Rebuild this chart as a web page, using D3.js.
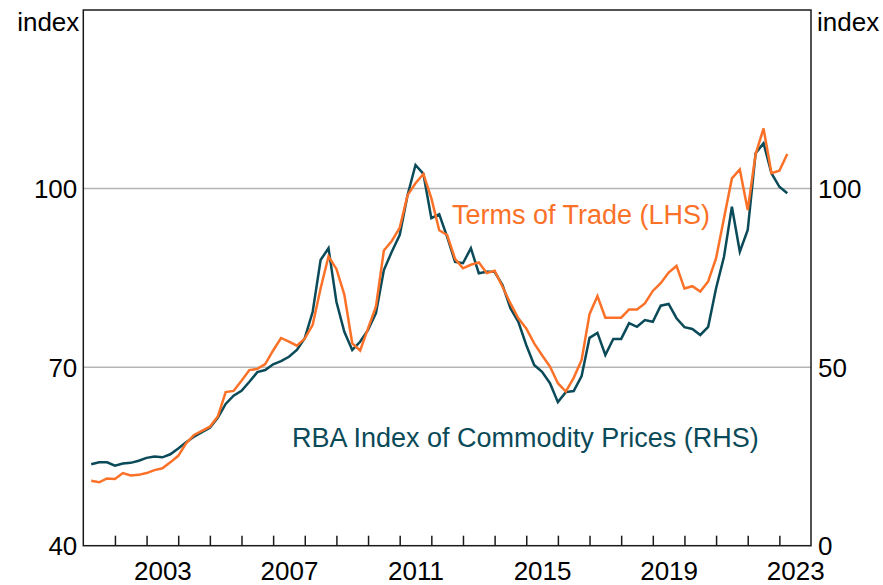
<!DOCTYPE html>
<html>
<head>
<meta charset="utf-8">
<script src="https://cdn.jsdelivr.net/npm/d3@7"></script>
<style>
  html, body { margin: 0; padding: 0; background: #fff; }
  svg { display: block; font-family: "Liberation Sans", Arial, sans-serif; }
</style>
</head>
<body>
<svg id="chart" width="883" height="585"></svg>
<script>
// ---- Data (quarterly, 2001 Q1 to 2023 Q1) ----
const startYear = 2001;
const quarters = [];
for (let y = startYear; y <= 2023; y++) {
  for (let q = 1; q <= 4; q++) {
    if (y === 2023 && q > 1) break;
    quarters.push(y + "Q" + q);
  }
}

// Terms of Trade (LHS, index)
const termsOfTrade = [
  50.9, 50.65, 51.3, 51.2, 52.2, 51.8, 51.9, 52.2, 52.7, 53.0,
  54.0, 55.1, 57.2, 58.6, 59.3, 60.0, 61.7, 65.8, 66.0, 67.7,
  69.5, 69.7, 70.5, 72.8, 74.9, 74.3, 73.6, 74.8, 77.1, 83.2,
  88.6, 86.5, 82.2, 74.0, 72.8, 76.5, 80.2, 89.6, 91.2, 93.4,
  98.9, 100.9, 102.45, 98.4, 93.0, 92.2, 88.2, 86.6, 87.2, 87.6,
  85.8, 86.2, 83.5, 80.7, 78.2, 76.5, 74.0, 72.0, 70.1, 67.3,
  65.9, 68.2, 71.2, 78.9, 81.95, 78.3, 78.3, 78.3, 79.7, 79.7,
  80.7, 82.8, 84.1, 85.9, 87.0, 83.2, 83.6, 82.7, 84.4, 88.3,
  95.0, 101.7, 103.2, 96.4, 105.8, 110.1, 102.6, 103.0, 105.8
];

// RBA Index of Commodity Prices (RHS, index)
const commodityPrices = [
  22.8, 23.35, 23.35, 22.4, 23.0, 23.2, 23.8, 24.6, 25.0, 24.75,
  25.6, 27.2, 28.95, 30.5, 31.8, 33.0, 35.8, 39.7, 42.0, 43.4,
  45.9, 48.6, 49.2, 50.8, 51.7, 52.9, 54.8, 58.1, 65.5, 80.0,
  83.3, 68.3, 59.9, 54.8, 57.1, 60.4, 65.1, 77.2, 82.3, 87.0,
  98.2, 106.6, 104.1, 91.7, 92.8, 86.5, 79.5, 79.1, 83.3, 76.3,
  76.7, 76.7, 73.0, 66.5, 62.7, 56.2, 50.6, 48.7, 45.5, 40.2,
  43.0, 43.3, 47.5, 58.2, 59.6, 53.4, 57.9, 57.9, 62.3, 61.3,
  63.2, 62.7, 67.2, 67.7, 63.7, 61.2, 60.7, 59.0, 61.3, 72.1,
  80.9, 94.9, 82.3, 88.4, 109.9, 112.7, 104.3, 100.5, 98.7
];

const leftTicks = [40, 70, 100];
const rightTicks = [0, 50, 100];
const yearLabels = [2003, 2007, 2011, 2015, 2019, 2023];
const leftDomain = [40, 130];
const rightDomain = [0, 150];
const xDomain = [2001, 2024];

const seriesLabels = {
  tot: "Terms of Trade (LHS)",
  rba: "RBA Index of Commodity Prices (RHS)"
};

// ---- Layout ----
const W = 883, H = 585;
const plot = { left: 83.3, right: 811, top: 10, bottom: 545.7 };
const orange = "#fb7128";
const teal = "#0b4a58";
const tickFont = 26;
const labelFont = 27;

const svg = d3.select("#chart");

// quarter -> decimal time at quarter end
const qTime = s => {
  const y = +s.slice(0, 4), q = +s.slice(5);
  return y + q * 0.25;
};

const x = d3.scaleLinear().domain(xDomain).range([plot.left, plot.right]);
const yL = d3.scaleLinear().domain(leftDomain).range([plot.bottom, plot.top]);
const yR = d3.scaleLinear().domain(rightDomain).range([plot.bottom, plot.top]);

// gridlines
svg.append("g")
  .selectAll("line")
  .data(leftTicks.filter(d => d > leftDomain[0]))
  .join("line")
  .attr("x1", plot.left).attr("x2", plot.right)
  .attr("y1", d => yL(d)).attr("y2", d => yL(d))
  .attr("stroke", "#b5b5b5").attr("stroke-width", 1.5);

// lines
const lineTot = d3.line()
  .x((d, i) => x(qTime(quarters[i])))
  .y(d => yL(d));
const lineRba = d3.line()
  .x((d, i) => x(qTime(quarters[i])))
  .y(d => yR(d));

svg.append("path")
  .datum(commodityPrices)
  .attr("d", lineRba)
  .attr("fill", "none")
  .attr("stroke", teal)
  .attr("stroke-width", 2.5)
  .attr("stroke-linejoin", "miter");

svg.append("path")
  .datum(termsOfTrade)
  .attr("d", lineTot)
  .attr("fill", "none")
  .attr("stroke", orange)
  .attr("stroke-width", 2.5)
  .attr("stroke-linejoin", "miter");

// frame
svg.append("rect")
  .attr("x", plot.left).attr("y", plot.top)
  .attr("width", plot.right - plot.left)
  .attr("height", plot.bottom - plot.top)
  .attr("fill", "none")
  .attr("stroke", "#1a1a1a")
  .attr("stroke-width", 1.5);

// bottom year ticks (inward)
const yearTicks = d3.range(xDomain[0] + 1, xDomain[1]);
const xTickAxis = d3.axisBottom(x)
  .tickValues(yearTicks)
  .tickSize(-10)
  .tickFormat("");
const gxt = svg.append("g")
  .attr("transform", `translate(0,${plot.bottom})`)
  .call(xTickAxis);
gxt.select(".domain").remove();
gxt.selectAll("line").attr("stroke", "#1a1a1a").attr("stroke-width", 1.5);

// bottom year labels (centered mid-year)
const xLabelAxis = d3.axisBottom(x)
  .tickValues(yearLabels.map(d => d + 0.5))
  .tickSize(0)
  .tickPadding(0)
  .tickFormat(d => String(Math.floor(d)));
const gxl = svg.append("g")
  .attr("transform", `translate(0,${plot.bottom})`)
  .call(xLabelAxis);
gxl.select(".domain").remove();
gxl.selectAll("text")
  .attr("dy", null)
  .attr("y", 580 - plot.bottom)
  .attr("font-size", tickFont)
  .attr("font-family", "'Liberation Sans', Arial, sans-serif")
  .attr("fill", "#000");

// left axis labels
const gl = svg.append("g")
  .attr("transform", `translate(${plot.left},0)`)
  .call(d3.axisLeft(yL).tickValues(leftTicks).tickSize(0).tickPadding(6));
gl.select(".domain").remove();
gl.selectAll("text")
  .attr("font-size", tickFont)
  .attr("font-family", "'Liberation Sans', Arial, sans-serif")
  .attr("fill", "#000")
  .attr("dy", "0.35em");

// right axis labels
const gr = svg.append("g")
  .attr("transform", `translate(${plot.right},0)`)
  .call(d3.axisRight(yR).tickValues(rightTicks).tickSize(0).tickPadding(7));
gr.select(".domain").remove();
gr.selectAll("text")
  .attr("font-size", tickFont)
  .attr("font-family", "'Liberation Sans', Arial, sans-serif")
  .attr("fill", "#000")
  .attr("dy", "0.35em");

// unit labels
svg.append("text")
  .attr("x", plot.left - 4).attr("y", 31)
  .attr("text-anchor", "end")
  .attr("font-size", tickFont)
  .attr("fill", "#000")
  .text("index");
svg.append("text")
  .attr("x", plot.right + 6).attr("y", 31)
  .attr("text-anchor", "start")
  .attr("font-size", tickFont)
  .attr("fill", "#000")
  .text("index");

// series annotations
svg.append("text")
  .attr("x", 452).attr("y", 224)
  .attr("font-size", labelFont)
  .attr("fill", orange)
  .text(seriesLabels.tot);
svg.append("text")
  .attr("x", 292).attr("y", 447)
  .attr("font-size", labelFont)
  .attr("fill", teal)
  .text(seriesLabels.rba);
</script>
</body>
</html>
